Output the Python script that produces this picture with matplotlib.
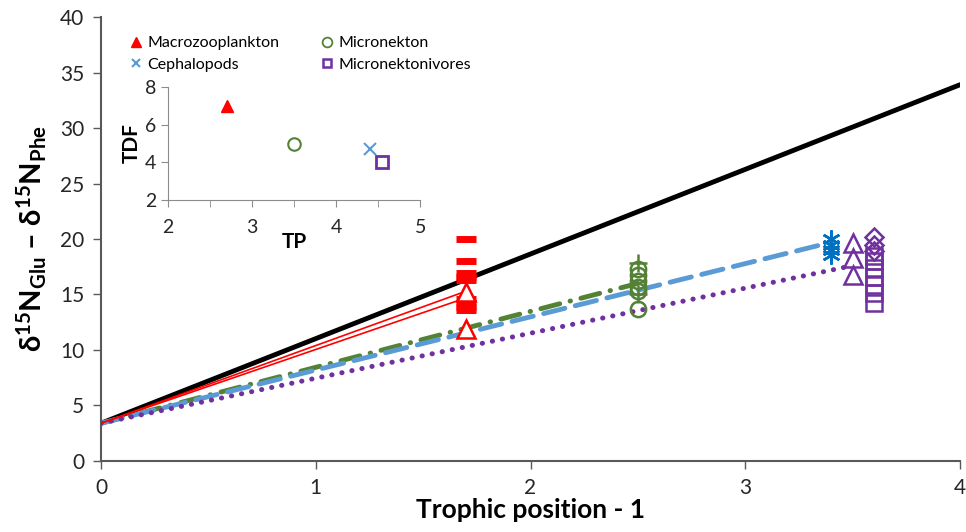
import numpy as np
import matplotlib
matplotlib.use('Agg')
import matplotlib.pyplot as plt
from matplotlib.lines import Line2D

plt.rcParams['font.family'] = ['Lato', 'DejaVu Sans']
plt.rcParams['mathtext.fontset'] = 'custom'
plt.rcParams['mathtext.rm'] = 'Lato:bold'
plt.rcParams['mathtext.bf'] = 'Lato:bold'
plt.rcParams['mathtext.default'] = 'bf'

RED = '#FF0000'
GREEN = '#548235'
BLUE_LINE = '#5B9BD5'
BLUE_MK = '#0070C0'
PURPLE = '#7030A0'

# regression lines: start (0, intercept) -> end point
intercept = 3.4
black_end = (4.0, 33.9)
red_ends = [(1.7, 15.3), (1.7, 14.7)]
green_end = (2.5, 16.0)
blue_end = (3.4, 19.7)
purple_end = (3.5, 17.6)

# data points (x = trophic position - 1)
macro_x = 1.7
macro_bars = [20.0, 18.0, 16.9, 16.6, 16.3, 14.6, 14.2, 13.9, 13.6]
macro_tri = [15.2, 11.9]
micro_x = 2.5
micro_circ = [17.3, 16.8, 16.2, 15.7, 15.3, 13.7]
micro_plus = [17.8, 15.0]
ceph_x = 3.4
ceph_vals = [20.0, 19.5, 19.0, 18.6]
mnv_tri_x = 3.5
mnv_tri = [19.6, 18.3, 16.8]
mnv_x = 3.6
mnv_diam = [20.2, 19.5, 18.9]
mnv_sq = [18.5, 18.0, 17.4, 16.6, 15.9, 15.1, 14.2]

# inset TDF vs TP
inset_tp = [2.7, 3.5, 4.4, 4.55]
inset_tdf = [7.0, 5.0, 4.7, 4.0]

fig = plt.figure(figsize=(9.66, 5.32), dpi=100)
ax = fig.add_axes([0.1046, 0.1335, 0.8892, 0.8345])

def reg_line(end, **kw):
    ax.plot([0, end[0]], [intercept, end[1]], solid_capstyle='round',
            dash_capstyle='round', **kw)

reg_line(black_end, color='black', lw=3.5, zorder=3)
for e in red_ends:
    ax.plot([0, e[0]], [intercept, e[1]], color=RED, lw=1.2, zorder=4)
reg_line(green_end, color=GREEN, lw=3.5, dashes=(4, 2.2, 0.1, 2.2), zorder=3)
reg_line(blue_end, color=BLUE_LINE, lw=3.5, dashes=(4.5, 2.2), zorder=3)
reg_line(purple_end, color=PURPLE, lw=3.6, dashes=(0.05, 2.0), zorder=3)

ax.plot([macro_x] * len(macro_bars), macro_bars, ls='none', marker='_',
        ms=14, mew=5, color=RED, zorder=5)
ax.plot([macro_x] * len(macro_tri), macro_tri, ls='none', marker='^',
        ms=13, mfc='white', mec=RED, mew=1.8, zorder=5)
ax.plot([micro_x] * len(micro_circ), micro_circ, ls='none', marker='o',
        ms=11, mfc='none', mec=GREEN, mew=1.8, zorder=5)
ax.plot([micro_x] * len(micro_plus), micro_plus, ls='none', marker='+',
        ms=13, mec=GREEN, mew=1.8, zorder=5)
ax.plot([ceph_x] * len(ceph_vals), ceph_vals, ls='none', marker=(6, 2, 0),
        ms=13, mec=BLUE_MK, mew=1.8, zorder=5)
ax.plot([mnv_tri_x] * len(mnv_tri), mnv_tri, ls='none', marker='^',
        ms=13, mfc='none', mec=PURPLE, mew=1.8, zorder=5)
ax.plot([mnv_x] * len(mnv_diam), mnv_diam, ls='none', marker='D',
        ms=9, mfc='none', mec=PURPLE, mew=1.8, zorder=5)
ax.plot([mnv_x] * len(mnv_sq), mnv_sq, ls='none', marker='s',
        ms=12, mfc='none', mec=PURPLE, mew=1.8, zorder=5)

ax.set_xlim(0, 4)
ax.set_ylim(0, 40)
ax.set_xticks(np.arange(0, 5, 1))
ax.set_yticks(np.arange(0, 45, 5))
for s in ['top', 'right']:
    ax.spines[s].set_visible(False)
for s in ['left', 'bottom']:
    ax.spines[s].set_color('#595959')
    ax.spines[s].set_linewidth(1.5)
ax.tick_params(direction='out', length=6, width=1, color='#595959', pad=6,
               labelsize=15, labelcolor='#262626')
ax.set_xlabel('Trophic position - 1', fontsize=19, fontweight='bold', labelpad=0)
ax.set_ylabel(r'$\delta^{15}N_{Glu}$ – $\delta^{15}N_{Phe}$', fontsize=21,
              fontweight='bold', labelpad=8)

# inset
ins = fig.add_axes([0.174, 0.624, 0.261, 0.2125])
ins.plot(inset_tp[0], inset_tdf[0], marker='^', ms=9, color=RED, ls='none')
ins.plot(inset_tp[1], inset_tdf[1], marker='o', ms=9, mfc='white', mec=GREEN,
         mew=1.5, ls='none')
ins.plot(inset_tp[2], inset_tdf[2], marker='x', ms=8, mec=BLUE_LINE, mew=1.5,
         ls='none')
ins.plot(inset_tp[3], inset_tdf[3], marker='s', ms=8, mfc='white', mec=PURPLE,
         mew=2, ls='none')
ins.set_xlim(2, 5)
ins.set_ylim(2, 8)
ins.set_xticks([2, 3, 4, 5])
ins.set_xticks([2.5, 3.5, 4.5], minor=True)
ins.set_yticks([2, 4, 6, 8])
ins.patch.set_alpha(0)
for s in ['top', 'right']:
    ins.spines[s].set_visible(False)
for s in ['left', 'bottom']:
    ins.spines[s].set_color('#8c8c8c')
ins.tick_params(which='both', direction='out', length=5, color='#8c8c8c',
                labelsize=14, labelcolor='#262626')
ins.tick_params(axis='x', pad=9)
ins.set_xlabel('TP', fontsize=15, fontweight='bold', labelpad=-3)
ins.set_ylabel('TDF', fontsize=15, fontweight='bold', labelpad=2)

handles = [
    Line2D([], [], ls='none', marker='^', ms=7, color=RED),
    Line2D([], [], ls='none', marker='x', ms=6, mec=BLUE_LINE, mew=1.5),
    Line2D([], [], ls='none', marker='o', ms=7, mfc='white', mec=GREEN, mew=1.3),
    Line2D([], [], ls='none', marker='s', ms=6, mfc='white', mec=PURPLE, mew=1.8),
]
labels = ['Macrozooplankton', 'Cephalopods', 'Micronekton', 'Micronektonivores']
fig.legend(handles, labels, ncol=2, loc='upper left',
           bbox_to_anchor=(122 / 966, 1 - 28 / 532), frameon=False,
           fontsize=11.5, handlelength=0.8, handletextpad=0.3,
           columnspacing=2.6, labelspacing=0.45, borderpad=0)

fig.savefig('out.png', dpi=100)
